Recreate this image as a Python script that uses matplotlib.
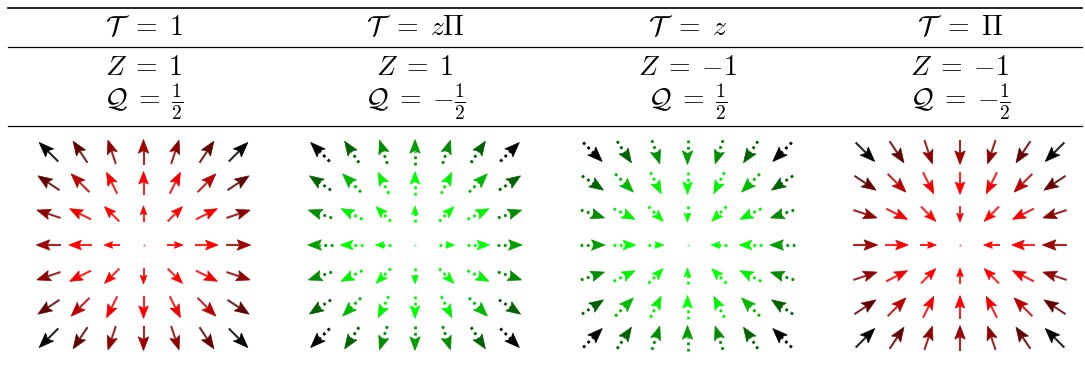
import numpy as np
import matplotlib
matplotlib.use('Agg')
import matplotlib.pyplot as plt
from matplotlib.patches import Polygon

plt.rcParams['mathtext.fontset'] = 'cm'

# encabezados de la tabla
fila_T = [r'$\mathcal{T}\;\,=\;1$', r'$\mathcal{T}\;\,=\;z\Pi$', r'$\mathcal{T}\;\,=\;z$', r'$\mathcal{T}\;\,=\;\Pi$']
fila_Z = [r'$Z \;=\; 1$', r'$Z \;=\; 1$', r'$Z \;=\; {-1}$', r'$Z \;=\; {-1}$']
fila_Q = [r'$\mathcal{Q} \;=\; \frac{1}{2}$', r'$\mathcal{Q} \;=\; {-\frac{1}{2}}$',
          r'$\mathcal{Q} \;=\; \frac{1}{2}$', r'$\mathcal{Q} \;=\; {-\frac{1}{2}}$']

# campo de flechas: rejilla 7x7, sentido (+1 hacia fuera, -1 hacia dentro)
rejilla = [-3, -2, -1, 0, 1, 2, 3]
sentido = [1, 1, -1, -1]
color_base = ['red', 'green', 'green', 'red']
punteado = [False, True, True, False]

# longitud (px) y tono segun r^2
anillo_r2 = [0, 1, 2, 4, 5, 8, 9, 10, 13, 18]
anillo_long = [0, 16, 21, 23, 24, 26, 25, 25, 26, 27]
anillo_tono = [1.0, 1.0, 1.0, 1.0, 0.95, 0.72, 0.62, 0.55, 0.38, 0.0]

# posiciones en pixeles
centros_x = [143.5, 415, 687.5, 960]
centro_y = 245
paso_x = 31.6
paso_y = 31.0

fig = plt.figure(figsize=(10.85, 3.73), dpi=100)
ax = fig.add_axes([0, 0, 1, 1])
ax.set_xlim(0, 1085)
ax.set_ylim(373, 0)
ax.axis('off')

# lineas de la tabla
ax.plot([8, 1082], [7.5, 7.5], color='black', lw=1.2)
ax.plot([8, 1082], [47.3, 47.3], color='black', lw=0.9)
ax.plot([8, 1082], [125.5, 125.5], color='black', lw=0.9)

for i in range(4):
    ax.text(centros_x[i], 27, fila_T[i], ha='center', va='center', fontsize=20)
    ax.text(centros_x[i], 67, fila_Z[i], ha='center', va='center', fontsize=20)
    ax.text(centros_x[i], 102, fila_Q[i], ha='center', va='center', fontsize=20)


def color_de(base, tono):
    if base == 'red':
        return (tono, 0.0, 0.0)
    return (0.0, tono, 0.0)


for i in range(4):
    for gx in rejilla:
        for gy in rejilla:
            r2 = gx * gx + gy * gy
            k = anillo_r2.index(r2)
            L = anillo_long[k]
            col = color_de(color_base[i], anillo_tono[k])
            cx = centros_x[i] + gx * paso_x
            cy = centro_y - gy * paso_y
            if r2 == 0:
                ax.plot(cx, cy, 's', ms=1.3, color=col, mec='none', alpha=0.7)
                continue
            r = np.sqrt(r2)
            dx = sentido[i] * gx / r
            dy = -sentido[i] * gy / r
            px, py = -dy, dx
            tip = (cx + dx * L / 2, cy + dy * L / 2)
            cola = (cx - dx * L / 2, cy - dy * L / 2)
            hl = 0.55 * L
            hw = 0.42 * L
            base = (tip[0] - dx * hl, tip[1] - dy * hl)
            muesca = (tip[0] - dx * hl * 0.8, tip[1] - dy * hl * 0.8)
            c1 = (base[0] + px * hw / 2, base[1] + py * hw / 2)
            c2 = (base[0] - px * hw / 2, base[1] - py * hw / 2)
            if punteado[i]:
                ax.plot([cola[0], muesca[0]], [cola[1], muesca[1]], color=col,
                        lw=2.0, linestyle=(0, (1.0, 1.3)), solid_capstyle='butt')
            else:
                ax.plot([cola[0], muesca[0]], [cola[1], muesca[1]], color=col,
                        lw=1.5, alpha=0.85, solid_capstyle='butt')
            ax.add_patch(Polygon([tip, c1, muesca, c2], closed=True,
                                 facecolor=col, edgecolor=col, lw=0.5))

plt.savefig('out.png', dpi=100)
